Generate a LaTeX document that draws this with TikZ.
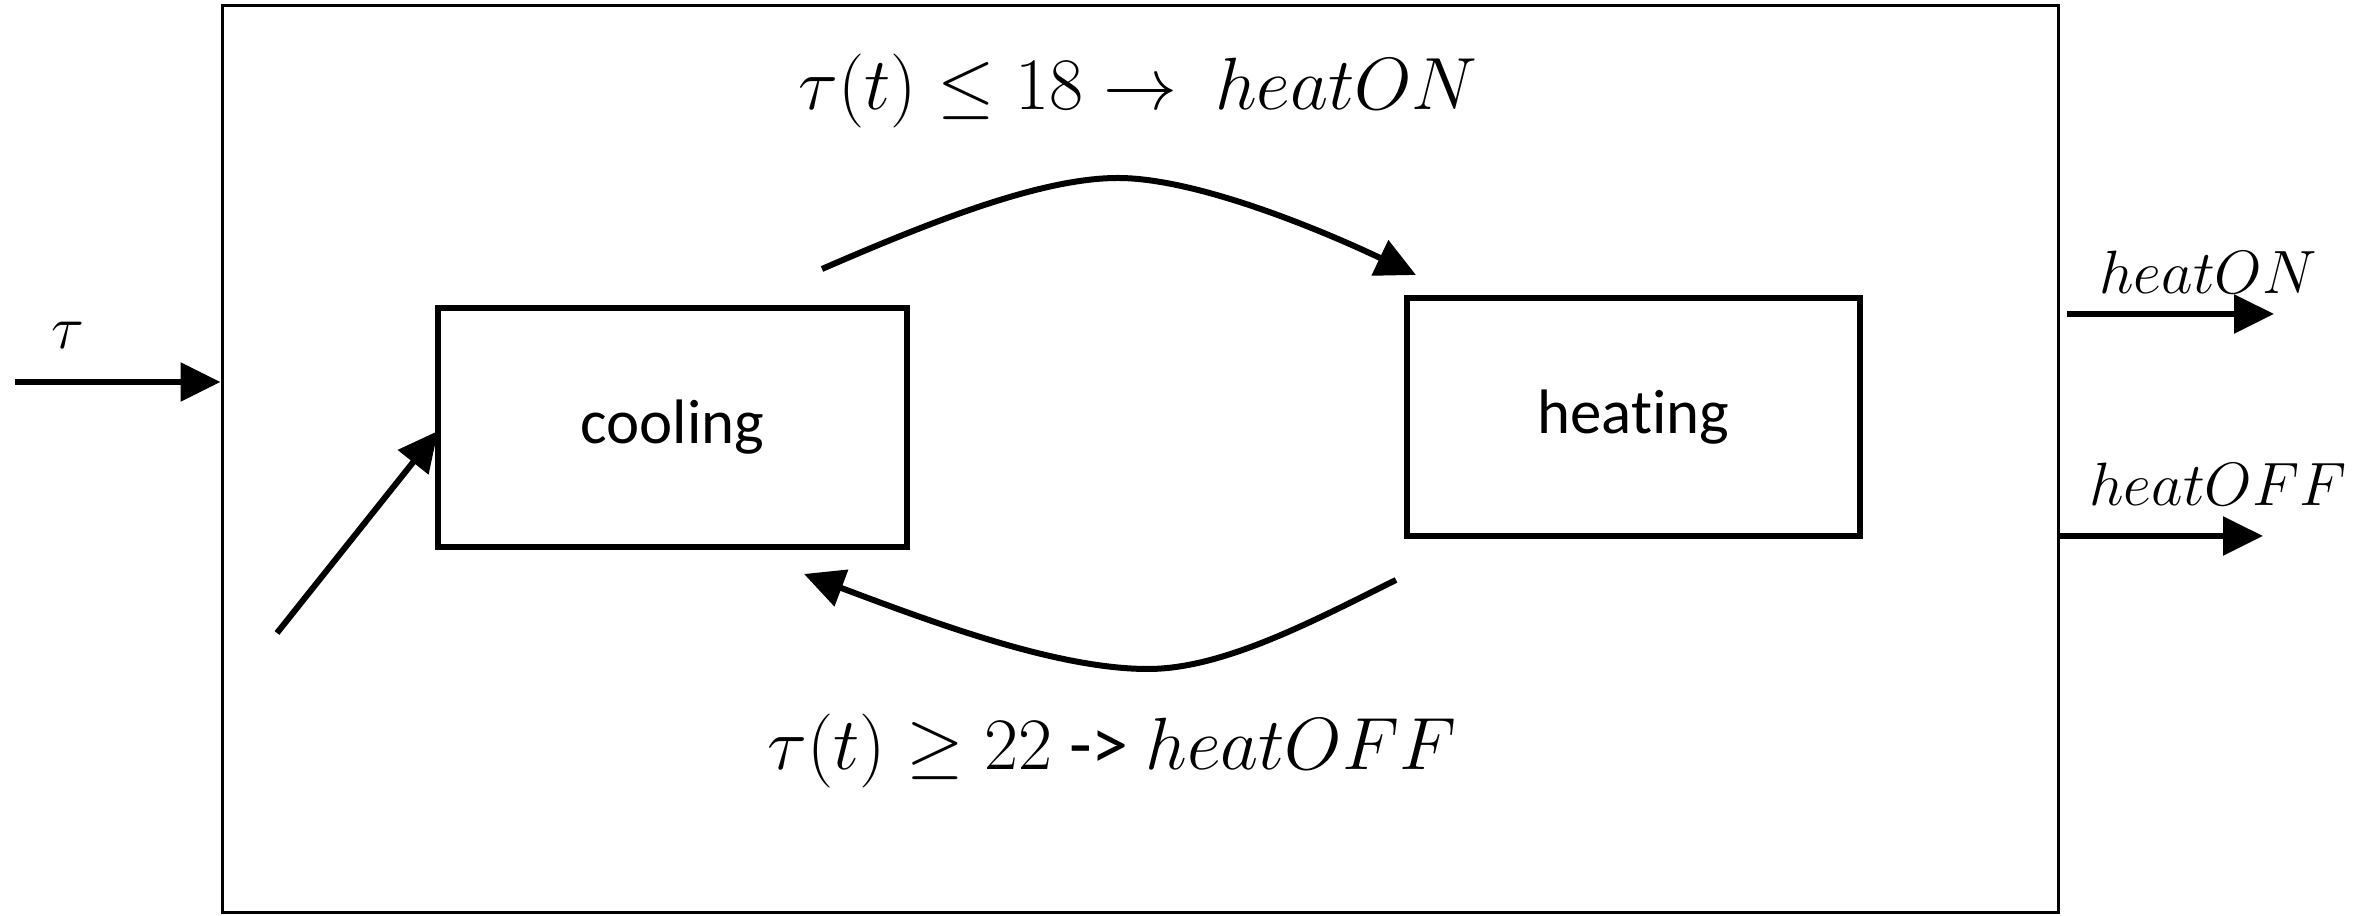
\RequirePackage{fix-cm}
\documentclass[tikz,border=0pt]{standalone}
\usepackage{fontspec}
\setmainfont{Carlito}[Ligatures={NoCommon}]
\usetikzlibrary{arrows.meta}
\begin{document}
\begin{tikzpicture}[x=0.25pt,y=-0.25pt,
  state/.style={draw,line width=1.4pt,inner sep=0pt,font=\fontsize{15.7}{19}\selectfont},
  conn/.style={line width=1.5pt,-{Triangle[length=10pt,width=9.5pt]}},
  lab/.style={inner sep=0pt,font=\fontsize{18.5}{22}\selectfont},
  slab/.style={inner sep=0pt,font=\fontsize{15.3}{19}\selectfont}]
\useasboundingbox (0,0) rectangle (2369,916);
% system frame
\node[draw,line width=0.75pt,minimum width=459pt,minimum height=226.75pt,inner sep=0pt] (sys) at (1140,459.5) {};
% states
\node[state,minimum width=117.25pt,minimum height=59.75pt] (cool) at (672.5,427.5) {cooling};
\node[state,minimum width=113.25pt,minimum height=59.5pt] (heat) at (1633.5,417) {heating};
% input
\coordinate (in) at (15,382);
\draw[conn] (in) -- (sys.west |- in);
\node[slab] (tau) at (68,335) {$\tau$};
% initial arrow
\coordinate (init) at (277,633);
\coordinate (initend) at (438,431);
\draw[conn] (init) -- (initend);
% transitions
\coordinate (s1) at (822,269);
\coordinate (p1) at (1118,178);
\coordinate (e1) at (1416,275);
\draw[conn] (s1) .. controls (937,219) and (1043,178) .. (p1)
               .. controls (1194,178) and (1315,227) .. (e1);
\coordinate (s2) at (1396,580);
\coordinate (p2) at (1148,669);
\coordinate (e2) at (804,574);
\draw[conn] (s2) .. controls (1315,620) and (1224,669) .. (p2)
               .. controls (1058,669) and (937,624) .. (e2);
\node[lab] (tl) at (1138,91) {$\tau(t) \leq 18 \to\ heatON$};
\node[lab] (bl) at (1112,751) {$\tau(t) \geq 22$ -> $heatOFF$};
% outputs
\coordinate (on1) at (2067,314);
\coordinate (on2) at (2274,314);
\draw[conn] (on1) -- (on2);
\node[slab] (onl) at (2208,272) {$heatON$};
\coordinate (off) at (2263,536);
\draw[conn] (sys.east |- off) -- (off);
\node[slab] (offl) at (2218,484) {$heatOFF$};
\end{tikzpicture}
\end{document}
